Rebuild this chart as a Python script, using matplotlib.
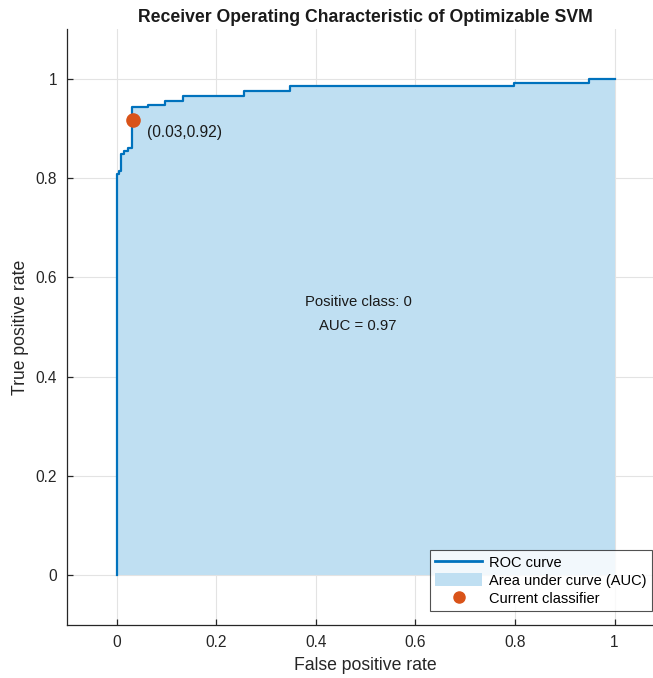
import matplotlib
matplotlib.use("Agg")
import matplotlib.pyplot as plt
from matplotlib.patches import Patch
from matplotlib.lines import Line2D

plt.rcParams['font.family'] = ['Liberation Sans', 'DejaVu Sans']

# ROC staircase: breakpoints on the FPR axis and the TPR level that starts there
fpr = [0.0, 0.0, 0.005, 0.009, 0.016, 0.023, 0.031, 0.064, 0.098, 0.133,
       0.256, 0.348, 0.798, 0.948, 1.0]
tpr = [0.0, 0.808, 0.815, 0.849, 0.855, 0.861, 0.942, 0.947, 0.956, 0.966,
       0.976, 0.985, 0.992, 1.0, 1.0]

op_fpr, op_tpr = 0.033, 0.916
op_label = "(0.03,0.92)"
positive_class = "0"
auc_value = 0.97

xticks = [0, 0.2, 0.4, 0.6, 0.8, 1]
yticks = [0, 0.2, 0.4, 0.6, 0.8, 1]
tick_labels = ["0", "0.2", "0.4", "0.6", "0.8", "1"]

line_col = "#0072BD"
fill_col = "#BFDFF2"
dot_col = "#D95319"
axis_col = "#262626"

fig = plt.figure(figsize=(6.53, 6.78), dpi=100)
ax = fig.add_axes([66.7 / 653, 53 / 678, 597.6 / 653, 596 / 678])

ax.fill_between(fpr, 0, tpr, step='post', color=fill_col, lw=0, zorder=1)
ax.step(fpr, tpr, where='post', color=line_col, lw=1.6, zorder=2)
ax.plot([op_fpr], [op_tpr], 'o', color=dot_col, ms=9.5, zorder=3)

ax.text(op_fpr + 0.029, op_tpr - 0.024, op_label, fontsize=11.2,
        ha='left', va='center', color='#1a1a1a')
ax.text(0.485, 0.55, f"Positive class: {positive_class}", fontsize=10.7,
        ha='center', va='center', color='#1a1a1a')
ax.text(0.485, 0.502, f"AUC = {auc_value:.2f}", fontsize=10.7,
        ha='center', va='center', color='#1a1a1a')

ax.set_xlim(-0.1, 1.1)
ax.set_ylim(-0.1, 1.1)
ax.set_xticks(xticks)
ax.set_xticklabels(tick_labels)
ax.set_yticks(yticks)
ax.set_yticklabels(tick_labels)
ax.grid(True, color='#e3e3e3', lw=0.8, zorder=0)
ax.set_axisbelow(True)

for s in ['top', 'right']:
    ax.spines[s].set_visible(False)
for s in ['left', 'bottom']:
    ax.spines[s].set_color(axis_col)
    ax.spines[s].set_linewidth(0.9)
ax.tick_params(direction='in', length=4, width=0.9, color=axis_col,
               labelsize=11.2, labelcolor=axis_col, pad=7)

ax.set_xlabel("False positive rate", fontsize=12.7, color=axis_col, labelpad=5)
ax.set_ylabel("True positive rate", fontsize=12.7, color=axis_col, labelpad=5)
ax.set_title("Receiver Operating Characteristic of Optimizable SVM",
             fontsize=12.7, fontweight='bold', color='#1a1a1a', pad=5)

handles = [
    Line2D([], [], color=line_col, lw=2),
    Patch(facecolor=fill_col, edgecolor='none'),
    Line2D([], [], marker='o', ls='none', color=dot_col, ms=8),
]
labels = ["ROC curve", "Area under curve (AUC)", "Current classifier"]
leg = ax.legend(handles, labels, loc='lower right',
                bbox_to_anchor=(652 / 653, 67 / 678),
                bbox_transform=fig.transFigure, borderaxespad=0,
                fontsize=10.5, frameon=True, fancybox=False,
                handlelength=3.2, handleheight=1.0, labelspacing=0.25,
                borderpad=0.35, handletextpad=0.5)
leg.get_frame().set_edgecolor(axis_col)
leg.get_frame().set_linewidth(0.8)

fig.savefig("out.png", dpi=100)
